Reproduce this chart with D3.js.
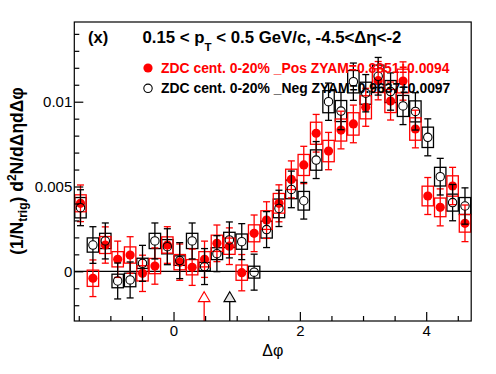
<!DOCTYPE html>
<html><head><meta charset="utf-8">
<script src="https://cdn.jsdelivr.net/npm/d3@7"></script>
<style>
body{margin:0;background:#fff;}
svg{display:block;font-family:"Liberation Sans",Arial,Helvetica,sans-serif;}
</style></head>
<body>
<div id="chart"></div>
<script>
// ---- data ----
const dphi = [-1.473,-1.276,-1.080,-0.884,-0.687,-0.491,-0.295,-0.098,0.098,0.295,0.491,0.687,0.884,1.080,1.276,1.473,
              1.669,1.865,2.062,2.258,2.454,2.651,2.847,3.043,3.240,3.436,3.633,3.829,4.025,4.222,4.418,4.614];
const posVals = [4.01e-3,-0.41e-3,1.55e-3,0.71e-3,0.96e-3,-0.12e-3,0.31e-3,1.55e-3,0.54e-3,0.24e-3,0.71e-3,1.65e-3,1.48e-3,-0.08e-3,2.24e-3,3.02e-3,
                 4.01e-3,5.42e-3,6.27e-3,8.14e-3,7.09e-3,8.33e-3,8.69e-3,9.67e-3,11.24e-3,10.04e-3,11.22e-3,8.39e-3,4.44e-3,3.77e-3,5.03e-3,2.83e-3];
const posStat = [1.08e-3,1.08e-3,1.07e-3,1.07e-3,1.08e-3,1.07e-3,1.07e-3,1.08e-3,1.07e-3,1.07e-3,1.07e-3,1.08e-3,1.08e-3,1.07e-3,1.08e-3,1.08e-3,
                 1.09e-3,1.09e-3,1.10e-3,1.11e-3,1.10e-3,1.11e-3,1.11e-3,1.12e-3,1.13e-3,1.12e-3,1.13e-3,1.11e-3,1.09e-3,1.09e-3,1.10e-3,1.08e-3];
const posSys = [0.50e-3,0.48e-3,0.50e-3,0.45e-3,0.48e-3,0.45e-3,0.45e-3,0.48e-3,0.45e-3,0.45e-3,0.45e-3,0.48e-3,0.48e-3,0.45e-3,0.50e-3,0.55e-3,
                0.58e-3,0.60e-3,0.62e-3,0.65e-3,0.63e-3,0.65e-3,0.66e-3,0.68e-3,0.70e-3,0.68e-3,0.70e-3,0.66e-3,0.58e-3,0.55e-3,0.60e-3,0.52e-3];
const negVals = [3.75e-3,1.55e-3,1.79e-3,-0.57e-3,-0.51e-3,0.47e-3,1.79e-3,1.45e-3,0.63e-3,1.79e-3,0.28e-3,1.04e-3,1.85e-3,1.75e-3,-0.05e-3,2.46e-3,
                 3.71e-3,4.83e-3,4.16e-3,6.56e-3,10.0e-3,9.45e-3,11.18e-3,10.5e-3,11.5e-3,10.6e-3,9.75e-3,9.43e-3,7.9e-3,5.58e-3,4.05e-3,3.85e-3];
const negStat = [1.06e-3,1.08e-3,1.06e-3,1.06e-3,1.06e-3,1.06e-3,1.06e-3,1.06e-3,1.06e-3,1.06e-3,1.06e-3,1.06e-3,1.06e-3,1.06e-3,1.06e-3,1.06e-3,
                 1.07e-3,1.08e-3,1.08e-3,1.09e-3,1.10e-3,1.10e-3,1.10e-3,1.10e-3,1.11e-3,1.10e-3,1.10e-3,1.10e-3,1.09e-3,1.08e-3,1.07e-3,1.07e-3];
const negSys = [0.60e-3,0.42e-3,0.45e-3,0.40e-3,0.40e-3,0.30e-3,0.45e-3,0.42e-3,0.28e-3,0.45e-3,0.25e-3,0.35e-3,0.45e-3,0.45e-3,0.35e-3,0.50e-3,
                0.55e-3,0.55e-3,0.55e-3,0.60e-3,0.65e-3,0.62e-3,0.66e-3,0.65e-3,0.66e-3,0.65e-3,0.62e-3,0.62e-3,0.60e-3,0.55e-3,0.50e-3,0.50e-3];
const zyamPosX = 0.485, zyamNegX = 0.89;
const xMajor = [0,2,4];
const xMinor = [-1.5,-1,-0.5,0.5,1,1.5,2.5,3,3.5,4.5];
const yMajor = [0,0.005,0.01];
const yMinor = [-0.002,-0.001,0.001,0.002,0.003,0.004,0.006,0.007,0.008,0.009,0.011,0.012,0.013,0.014];
const binWidth = Math.PI/16;
const legendPos = "ZDC cent. 0-20% _Pos ZYAM=0.8851\u00B10.0094";
const legendNeg = "ZDC cent. 0-20% _Neg ZYAM=0.9637\u00B10.0097";

// ---- layout ----
const W=496,H=374;
const L=74.3,R=471.2,T=22,B=321;
const svg=d3.select("#chart").append("svg").attr("width",W).attr("height",H);
const x=d3.scaleLinear().domain([-Math.PI/2,3*Math.PI/2]).range([L,R]);
const y=d3.scaleLinear().domain([-0.00293,0.0147]).range([B,T]);

// zero line
svg.append("line").attr("x1",L).attr("x2",R).attr("y1",y(0)).attr("y2",y(0)).attr("stroke","#000").attr("stroke-width",1.2);

function drawSys(vals,sys,color){
  svg.append("g").selectAll("rect").data(dphi).join("rect")
    .attr("x",(d)=>x(d-binWidth/2)+0.5)
    .attr("width",(d)=>x(d+binWidth/2)-x(d-binWidth/2)-1)
    .attr("y",(d,i)=>y(vals[i]+sys[i]))
    .attr("height",(d,i)=>y(vals[i]-sys[i])-y(vals[i]+sys[i]))
    .attr("fill","none").attr("stroke",color).attr("stroke-width",1.3);
}
function drawErr(vals,stat,color,gap){
  const g=svg.append("g").attr("stroke",color).attr("stroke-width",1.3);
  dphi.forEach((d,i)=>{
    const cx=x(d),cy=y(vals[i]),yt=y(vals[i]+stat[i]),yb=y(vals[i]-stat[i]);
    g.append("line").attr("x1",cx).attr("x2",cx).attr("y1",yt).attr("y2",cy-gap);
    g.append("line").attr("x1",cx).attr("x2",cx).attr("y1",cy+gap).attr("y2",yb);
    g.append("line").attr("x1",cx-3.5).attr("x2",cx+3.5).attr("y1",yt).attr("y2",yt);
    g.append("line").attr("x1",cx-3.5).attr("x2",cx+3.5).attr("y1",yb).attr("y2",yb);
  });
}
drawSys(negVals,negSys,"#000");
drawSys(posVals,posSys,"#ff0000");
drawErr(posVals,posStat,"#ff0000",0);
svg.append("g").selectAll("circle").data(dphi).join("circle")
  .attr("cx",(d)=>x(d)).attr("cy",(d,i)=>y(posVals[i])).attr("r",4.6).attr("fill","#ff0000");
drawErr(negVals,negStat,"#000",4.3);
svg.append("g").selectAll("circle").data(dphi).join("circle")
  .attr("cx",(d)=>x(d)).attr("cy",(d,i)=>y(negVals[i])).attr("r",4.2)
  .attr("fill","none").attr("stroke","#000").attr("stroke-width",1.1);

// ZYAM arrows
function arrow(xv,color,fill){
  const cx=x(xv), apex=y(-0.0012);
  svg.append("line").attr("x1",cx).attr("x2",cx).attr("y1",apex+10).attr("y2",B).attr("stroke",color).attr("stroke-width",1.3);
  svg.append("path").attr("d",`M${cx},${apex}L${cx+5.8},${apex+10}L${cx-5.8},${apex+10}Z`)
    .attr("fill",fill).attr("stroke",color).attr("stroke-width",1.1);
}
arrow(zyamPosX,"#ff0000","#fff");
arrow(zyamNegX,"#000","#e6e6e6");

// frame
svg.append("rect").attr("x",L).attr("y",T).attr("width",R-L).attr("height",B-T)
  .attr("fill","none").attr("stroke","#000").attr("stroke-width",1.2);

// axes
const fs=15;
const gx=svg.append("g").attr("transform",`translate(0,${B})`);
gx.call(d3.axisBottom(x).tickValues(xMajor).tickSizeInner(-9).tickSizeOuter(0).tickPadding(4).tickFormat(d3.format("d")));
const gxm=svg.append("g").attr("transform",`translate(0,${B})`);
gxm.call(d3.axisBottom(x).tickValues(xMinor).tickSizeInner(-5).tickSizeOuter(0).tickFormat(""));
const gy=svg.append("g").attr("transform",`translate(${L},0)`);
gy.call(d3.axisLeft(y).tickValues(yMajor).tickSizeInner(-9).tickSizeOuter(0).tickPadding(2).tickFormat(d=>d===0?"0":String(+d.toFixed(3))));
const gym=svg.append("g").attr("transform",`translate(${L},0)`);
gym.call(d3.axisLeft(y).tickValues(yMinor).tickSizeInner(-5).tickSizeOuter(0).tickFormat(""));
[gx,gxm,gy,gym].forEach(g=>{
  g.select(".domain").remove();
  g.selectAll("line").attr("stroke","#000").attr("stroke-width",1.2);
  g.selectAll("text").attr("font-size",fs).attr("fill","#000").attr("font-family","Liberation Sans, Arial, sans-serif");
});

// axis titles
svg.append("text").attr("x",(L+R)/2).attr("y",356).attr("text-anchor","middle")
  .attr("font-size",16).text("\u0394\u03C6");
const yt=svg.append("text").attr("transform","translate(22.5,171) rotate(-90)").attr("text-anchor","middle")
  .attr("font-size",17.5).attr("font-weight","bold");
yt.append("tspan").text("(1/N");
yt.append("tspan").attr("font-size",12).attr("dy",4.5).text("trig");
yt.append("tspan").attr("dy",-4.5).text(") d");
yt.append("tspan").attr("font-size",12).attr("dy",-6.5).text("2");
yt.append("tspan").attr("dy",6.5).text("N/d\u0394\u03B7d\u0394\u03C6");

// titles
svg.append("text").attr("x",88).attr("y",43).attr("font-size",16.5).attr("font-weight","bold").text("(x)");
const tt=svg.append("text").attr("x",142.5).attr("y",43.3).attr("font-size",16.8).attr("font-weight","bold");
tt.append("tspan").text("0.15 < p");
tt.append("tspan").attr("font-size",11.5).attr("dy",8).text("T");
tt.append("tspan").attr("dy",-8).text(" < 0.5 GeV/c, -4.5<\u0394\u03B7<-2");

// legend
svg.append("circle").attr("cx",148).attr("cy",68).attr("r",4.6).attr("fill","#ff0000");
svg.append("text").attr("x",161).attr("y",72.7).attr("font-size",13.9).attr("font-weight","bold").attr("fill","#ff0000").text(legendPos);
svg.append("circle").attr("cx",148).attr("cy",88.3).attr("r",4.2).attr("fill","none").attr("stroke","#000").attr("stroke-width",1.1);
svg.append("text").attr("x",161).attr("y",93).attr("font-size",13.9).attr("font-weight","bold").attr("fill","#000").text(legendNeg);
</script>
</body></html>
